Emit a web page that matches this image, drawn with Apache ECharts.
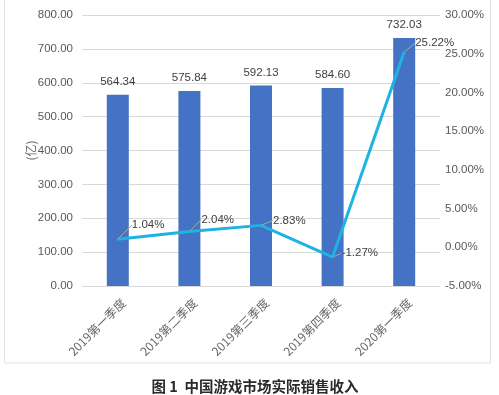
<!DOCTYPE html>
<html><head><meta charset="utf-8">
<script src="https://cdn.jsdelivr.net/npm/echarts@6/dist/echarts.min.js"></script>
<style>html,body{margin:0;padding:0;background:#fff}#c{width:499px;height:395px}</style>
</head><body><div id="c"></div>
<script>
var categories = ['2019第一季度','2019第二季度','2019第三季度','2019第四季度','2020第一季度'];
var revenue = [564.34, 575.84, 592.13, 584.60, 732.03];
var growth = [1.04, 2.04, 2.83, -1.27, 25.22];
var caption = '图 1  中国游戏市场实际销售收入';
var unitName = '(亿)';

var labelShift = [[11,-14],[9,-12],[9,-5],[6,-4],[8,-9]];
var font = '"Liberation Sans", "Noto Sans CJK SC", sans-serif';
var chart = echarts.init(document.getElementById('c'), null, {renderer:'canvas'});
chart.setOption({
  animation:false,
  textStyle:{fontFamily:font},
  graphic:[
    {type:'rect', shape:{x:4.5,y:-1,width:486,height:364}, style:{fill:'none', stroke:'#e2e2e2', lineWidth:1}, z:-1},
    {type:'text', x:255, y:386, style:{text:caption, align:'center', verticalAlign:'middle', font:'bold 14.5px "Noto Sans CJK SC", sans-serif', fill:'#2a2a2a'}}
  ],
  grid:{left:82, right:59, top:15, bottom:109},
  xAxis:{type:'category', data:categories,
    axisLine:{lineStyle:{color:'#d9d9d9'}}, axisTick:{show:false},
    axisLabel:{rotate:45, color:'#666', fontSize:12, margin:9, fontFamily:'"Noto Sans CJK SC", sans-serif',
      formatter:function(v){return '{a|'+v+'}';},
      rich:{a:{color:'#666', fontSize:12, fontFamily:'"Noto Sans CJK SC", sans-serif', padding:[16,0,0,0]}}}},
  yAxis:[
    {type:'value', min:0, max:800, interval:100, name:unitName, nameLocation:'middle', nameGap:45, nameRotate:90, nameMoveOverlap:false,
      nameTextStyle:{color:'#666', fontSize:12, fontFamily:'"Noto Sans CJK SC", sans-serif'},
      axisLabel:{formatter:function(v){return v.toFixed(2);}, color:'#595959', fontSize:11.5, margin:9},
      axisLine:{show:false}, axisTick:{show:false}, splitLine:{lineStyle:{color:'#d9d9d9'}}},
    {type:'value', min:-5, max:30, interval:5, position:'right',
      axisLabel:{formatter:function(v){return v.toFixed(2)+'%';}, color:'#595959', fontSize:11.5, margin:5},
      axisLine:{show:false}, axisTick:{show:false}, splitLine:{show:false}}
  ],
  series:[
    {type:'bar', data:revenue, barWidth:22, itemStyle:{color:'#4472c4'},
      label:{show:true, position:'top', distance:7, color:'#404040', fontSize:11.5, formatter:function(p){return p.value.toFixed(2);}}},
    {type:'line', yAxisIndex:1, data:growth, symbol:'circle', symbolSize:2, showSymbol:true,
      lineStyle:{color:'#1fb2e3', width:3}, itemStyle:{color:'#1fb2e3'},
      label:{show:true, position:'right', distance:2, color:'#404040', fontSize:11.5, formatter:function(p){return p.value.toFixed(2)+'%';}},
      labelLine:{show:true, lineStyle:{color:'#a6a6a6', width:1}},
      labelLayout:function(p){var s=labelShift[p.dataIndex]; return {dx:s[0], dy:s[1]};}
    }
  ]
});
</script></body></html>
